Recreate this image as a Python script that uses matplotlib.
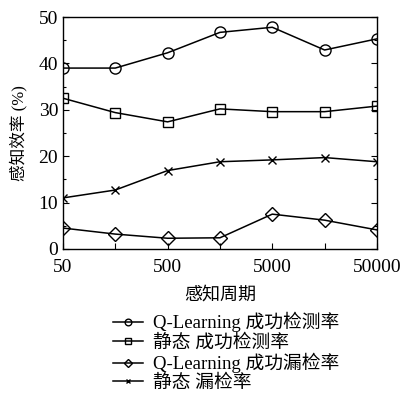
import matplotlib
matplotlib.use('Agg')
import matplotlib.pyplot as plt
from matplotlib.ticker import FixedLocator, NullFormatter

plt.rcParams['font.family'] = ['Liberation Serif', 'Noto Sans CJK SC']

# 数据
periods = [50, 158, 500, 1581, 5000, 15811, 50000]
tick_labels = ['50', '', '500', '', '5000', '', '50000']
q_success = [39.0, 39.0, 42.3, 46.7, 47.8, 42.9, 45.3]
static_success = [32.5, 29.4, 27.4, 30.2, 29.6, 29.6, 30.8]
q_miss = [4.5, 3.2, 2.3, 2.4, 7.5, 6.2, 4.1]
static_miss = [11.0, 12.7, 16.9, 18.8, 19.2, 19.7, 18.8]

fig = plt.figure(figsize=(4.01, 3.97), dpi=100)
ax = fig.add_axes([0.157, 0.373, 0.783, 0.584])

kw = dict(color='black', linewidth=1.1, markerfacecolor='none',
          markeredgewidth=1.0)
ax.plot(periods, q_success, marker='o', markersize=8,
        label='Q-Learning 成功检测率', **kw)
ax.plot(periods, static_success, marker='s', markersize=7,
        label='静态 成功检测率', **kw)
ax.plot(periods, q_miss, marker='D', markersize=7,
        label='Q-Learning 成功漏检率', **kw)
ax.plot(periods, static_miss, marker='x', markersize=6,
        label='静态 漏检率', **kw)

ax.set_xscale('log')
ax.set_xlim(periods[0], periods[-1])
ax.set_ylim(0, 50)
ax.xaxis.set_major_locator(FixedLocator(periods))
ax.set_xticklabels(tick_labels)
ax.xaxis.set_minor_formatter(NullFormatter())
ax.minorticks_off()
ax.set_yticks([0, 10, 20, 30, 40, 50])
ax.set_yticks([5, 15, 25, 35, 45], minor=True)
ax.tick_params(direction='in', which='both', right=True, labelsize=14,
               length=4, width=0.8)
ax.tick_params(which='minor', length=2.5)
ax.tick_params(axis='x', pad=7)
for s in ax.spines.values():
    s.set_linewidth(1.0)

ax.set_xlabel('感知周期', fontsize=13, labelpad=8)
ax.set_ylabel('感知效率 (%)', fontsize=12, labelpad=8)

ax.legend(loc='upper left', bbox_to_anchor=(0.16, -0.272), frameon=False,
          fontsize=13.5, handlelength=1.6, handletextpad=0.5, labelspacing=0.08,
          borderaxespad=0, borderpad=0, markerscale=0.6)

fig.savefig('out.png', dpi=100)
